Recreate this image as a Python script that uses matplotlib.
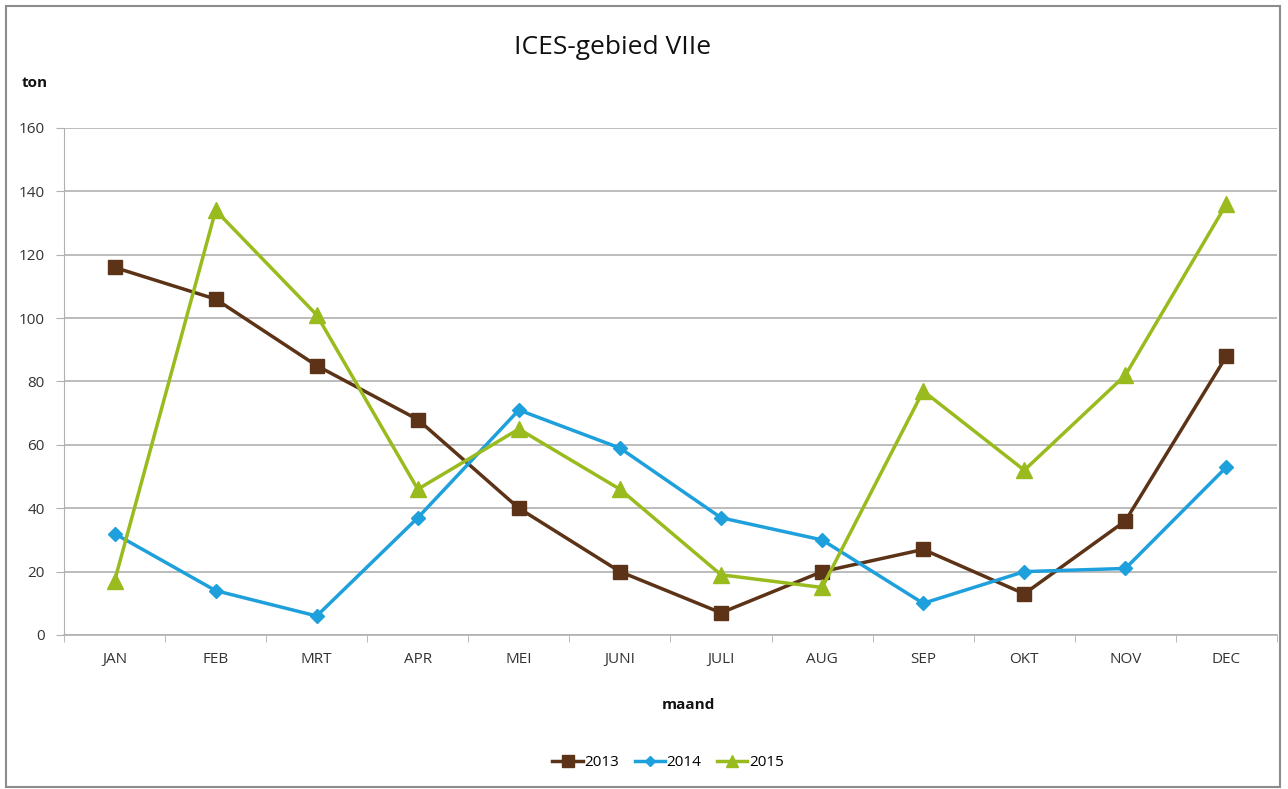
import matplotlib
matplotlib.use("Agg")
import matplotlib.pyplot as plt
from matplotlib.patches import Rectangle

plt.rcParams['font.family'] = ['Open Sans', 'DejaVu Sans']

months = ["JAN", "FEB", "MRT", "APR", "MEI", "JUNI", "JULI", "AUG", "SEP", "OKT", "NOV", "DEC"]
y2013 = [116, 106, 85, 68, 40, 20, 7, 20, 27, 13, 36, 88]
y2014 = [32, 14, 6, 37, 71, 59, 37, 30, 10, 20, 21, 53]
y2015 = [17, 134, 101, 46, 65, 46, 19, 15, 77, 52, 82, 136]
yticks = [0, 20, 40, 60, 80, 100, 120, 140, 160]

fig = plt.figure(figsize=(12.88, 7.89), dpi=100)
fig.patches.append(Rectangle((6/1288, 2/789), 1274/1288, 781/789, transform=fig.transFigure,
                             fill=False, edgecolor='#8c8c8c', linewidth=1.5))
ax = fig.add_axes([64/1288, 1-635/789, 1213/1288, (635-128)/789])

x = list(range(len(months)))
ax.plot(x, y2013, color='#5c3317', marker='s', markersize=10, linewidth=2.5, label='2013')
ax.plot(x, y2014, color='#1ea0dc', marker='D', markersize=7, linewidth=2.5, label='2014')
ax.plot(x, y2015, color='#99bb1e', marker='^', markersize=11, linewidth=2.5, label='2015')

ax.set_xlim(-0.5, 11.5)
ax.set_ylim(0, 160)
ax.set_yticks(yticks)
ax.set_yticklabels([str(v) for v in yticks], fontsize=11, color='#333333')
ax.grid(axis='y', color='#b0b0b0', linewidth=1.2)
ax.set_axisbelow(True)
ax.set_xticks(x)
ax.set_xticklabels(months, fontsize=11, color='#333333')
ax.tick_params(axis='x', length=0, pad=12)
ax.set_xticks([i + 0.5 for i in range(-1, 12)], minor=True)
ax.tick_params(axis='x', which='minor', length=5, color='#b0b0b0')
ax.tick_params(axis='y', length=6, color='#b0b0b0', pad=8)
for s in ['top', 'right']:
    ax.spines[s].set_visible(False)
ax.spines['left'].set_color('#b0b0b0')
ax.spines['bottom'].set_color('#b0b0b0')
ax.spines['bottom'].set_linewidth(1.2)

fig.text(613/1288, 1-47/789, "ICES-gebied VIIe", ha='center', va='center', fontsize=19, color='#111111')
fig.text(22/1288, 1-83/789, "ton", ha='left', va='center', fontsize=11, fontweight='bold', color='#111111')
fig.text(688/1288, 1-705/789, "maand", ha='center', va='center', fontsize=11, fontweight='bold', color='#111111')

ax.legend(loc='center', bbox_to_anchor=(668/1288, 1-763/789), bbox_transform=fig.transFigure,
          ncol=3, frameon=False, fontsize=11, handlelength=2.0, columnspacing=1.0, handletextpad=0.1,
          markerscale=0.8)

fig.savefig("out.png", dpi=100)
